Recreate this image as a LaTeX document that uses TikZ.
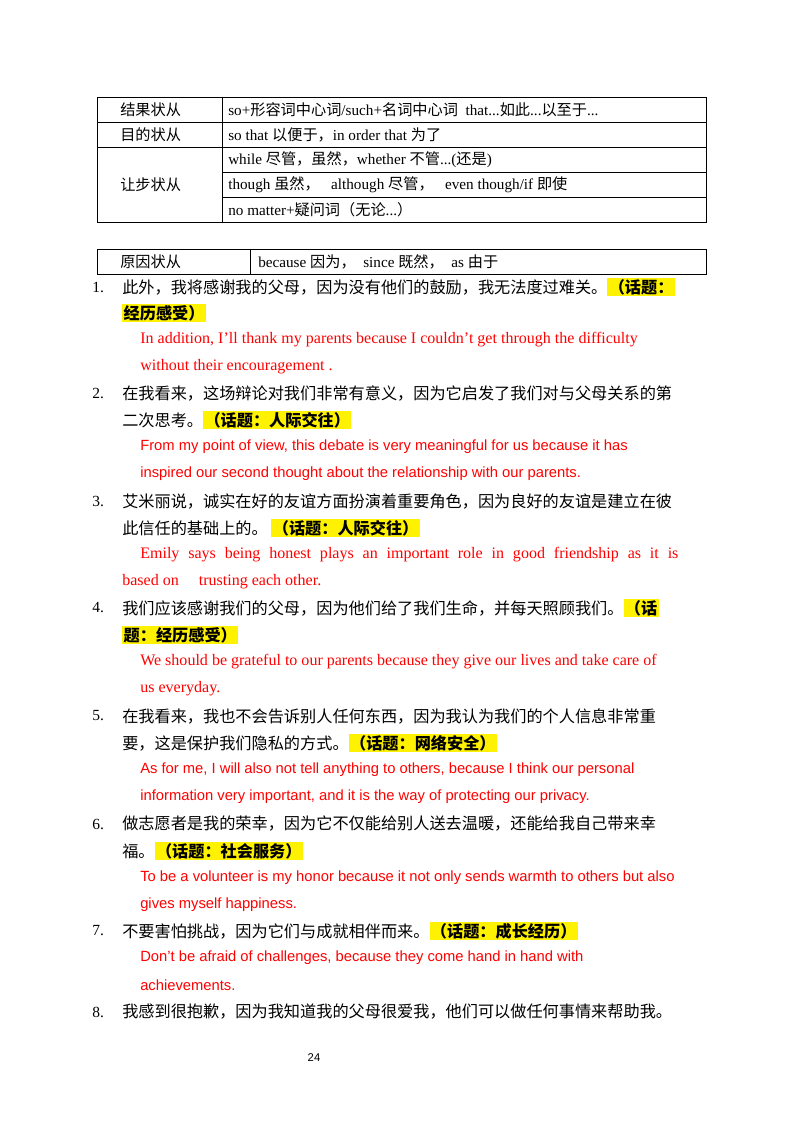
\documentclass[tikz,border=0pt]{standalone}
\usepackage{fontspec}
\setmainfont{Liberation Serif}
\setsansfont{Liberation Sans}
\newfontfamily\cjk{Noto Sans CJK SC}
\usetikzlibrary{positioning}
\newcommand{\hl}[1]{{\setlength{\fboxsep}{1pt}\colorbox{yellow}{\bfseries #1}}}
\tikzset{
  cn/.style={anchor=west,inner sep=0pt,font=\fontsize{11.5}{12}\cjk},
  en/.style={anchor=west,inner sep=0pt,text=red,font=\fontsize{11.4}{12}\rmfamily},
  ens/.style={anchor=west,inner sep=0pt,text=red,font=\fontsize{10.5}{12}\sffamily},
  tb/.style={anchor=west,inner sep=0pt,font=\fontsize{10.8}{12}\rmfamily},
  num/.style={anchor=west,inner sep=0pt,font=\fontsize{11}{12}\rmfamily}
}
\begin{document}
\begin{tikzpicture}[x=0.025cm,y=-0.025cm]
\useasboundingbox[fill=white] (0,0) rectangle (800,1132);
% tables
\draw (97,97) rectangle (706,222);
\draw (222,97) -- (222,222);
\foreach \y in {122,147} { \draw (97,\y) -- (706,\y); };
\foreach \y in {172,197} { \draw (222,\y) -- (706,\y); };
\node[tb] (t1a) at (120,110) {\cjk 结果状从};
\node[tb] (t1b) at (228,110) {so+{\cjk 形容词中心词}/such+{\cjk 名词中心词}\ \ that...{\cjk 如此}...{\cjk 以至于}...};
\node[tb] (t2a) at (120,135) {\cjk 目的状从};
\node[tb] (t2b) at (228,135) {so that {\cjk 以便于，}in order that {\cjk 为了}};
\node[tb] (t3a) at (120,185) {\cjk 让步状从};
\node[tb] (t3b) at (228,160) {while {\cjk 尽管，虽然，}whether {\cjk 不管}...({\cjk 还是})};
\node[tb] (t3c) at (228,185) {though {\cjk 虽然，}\ \ \ although {\cjk 尽管，}\ \ \ even though/if {\cjk 即使}};
\node[tb] (t3d) at (228,210) {no matter+{\cjk 疑问词（无论}...{\cjk ）}};
\draw (97,249) rectangle (706,274);
\draw (250,249) -- (250,274);
\node[tb] (t4a) at (120,262) {\cjk 原因状从};
\node[tb] (t4b) at (258,262) {because {\cjk 因为，}\ \ since {\cjk 既然，}\ \ as {\cjk 由于}};
% items
\foreach \n/\y in {1/287,2/393,3/501,4/608,5/716,6/824,7/931,8/1012} { \node[num] (n\n) at (92,\y) {\n.}; };
\node[cn] (c1a) at (122,287) {此外，我将感谢我的父母，因为没有他们的鼓励，我无法度过难关。\hl{（话题：}};
\node[cn] (c1b) at (122,313) {\hl{经历感受）}};
\node[en] (e1a) at (140,340) {In addition, I'll thank my parents because I couldn't get through the difficulty};
\node[en] (e1b) at (140,367) {without their encouragement .};
\node[cn] (c2a) at (122,393) {在我看来，这场辩论对我们非常有意义，因为它启发了我们对与父母关系的第};
\node[cn] (c2b) at (122,420) {二次思考。\hl{（话题：人际交往）}};
\node[ens] (e2a) at (140,447) {From my point of view, this debate is very meaningful for us because it has};
\node[ens] (e2b) at (140,474) {inspired our second thought about the relationship with our parents.};
\node[cn] (c3a) at (122,501) {艾米丽说，诚实在好的友谊方面扮演着重要角色，因为良好的友谊是建立在彼};
\node[cn] (c3b) at (122,528) {此信任的基础上的。 \hl{（话题：人际交往）}};
\node[en] (e3a) at (140,555) {\makebox[13.45cm][s]{Emily says being honest plays an important role in good friendship as it is}};
\node[en] (e3b) at (122,582) {based on\ \ \ \ \ trusting each other.};
\node[cn] (c4a) at (122,608) {我们应该感谢我们的父母，因为他们给了我们生命，并每天照顾我们。\hl{（话}};
\node[cn] (c4b) at (122,635) {\hl{题：经历感受）}};
\node[en] (e4a) at (140,662) {We should be grateful to our parents because they give our lives and take care of};
\node[en] (e4b) at (140,689) {us everyday.};
\node[cn] (c5a) at (122,716) {在我看来，我也不会告诉别人任何东西，因为我认为我们的个人信息非常重};
\node[cn] (c5b) at (122,743) {要，这是保护我们隐私的方式。\hl{（话题：网络安全）}};
\node[ens] (e5a) at (140,770) {As for me, I will also not tell anything to others, because I think our personal};
\node[ens] (e5b) at (140,797) {information very important, and it is the way of protecting our privacy.};
\node[cn] (c6a) at (122,824) {做志愿者是我的荣幸，因为它不仅能给别人送去温暖，还能给我自己带来幸};
\node[cn] (c6b) at (122,851) {福。\hl{（话题：社会服务）}};
\node[ens] (e6a) at (140,878) {To be a volunteer is my honor because it not only sends warmth to others but also};
\node[ens] (e6b) at (140,905) {gives myself happiness.};
\node[cn] (c7a) at (122,931) {不要害怕挑战，因为它们与成就相伴而来。\hl{（话题：成长经历）}};
\node[ens] (e7a) at (140,958) {Don't be afraid of challenges, because they come hand in hand with};
\node[ens] (e7b) at (140,985) {achievements.};
\node[cn] (c8a) at (122,1012) {我感到很抱歉，因为我知道我的父母很爱我，他们可以做任何事情来帮助我。};
\node[inner sep=0pt,font=\fontsize{8}{9}\sffamily] (pg) at (314,1058) {24};
\end{tikzpicture}
\end{document}
